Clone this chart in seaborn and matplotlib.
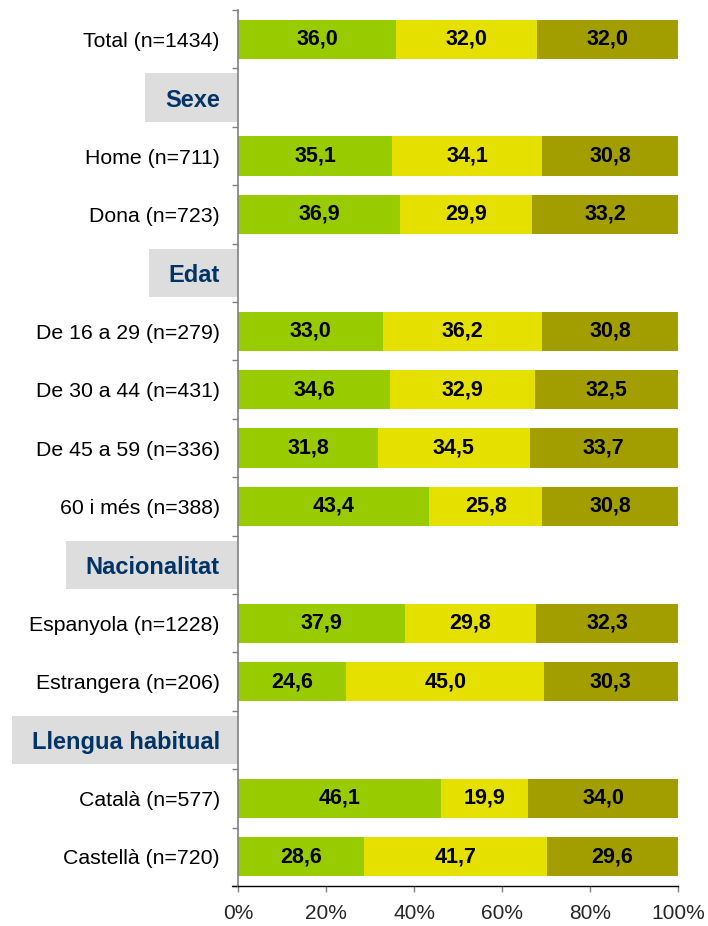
import matplotlib
matplotlib.use("Agg")
import matplotlib.pyplot as plt
import seaborn as sns
import pandas as pd
import numpy as np
from matplotlib.patches import Rectangle

nan = np.nan
rows = ["Total (n=1434)", "Sexe", "Home (n=711)", "Dona (n=723)", "Edat",
        "De 16 a 29 (n=279)", "De 30 a 44 (n=431)", "De 45 a 59 (n=336)",
        "60 i més (n=388)", "Nacionalitat", "Espanyola (n=1228)",
        "Estrangera (n=206)", "Llengua habitual", "Català (n=577)",
        "Castellà (n=720)"]
headers = ["Sexe", "Edat", "Nacionalitat", "Llengua habitual"]
seg1 = [36.0, nan, 35.1, 36.9, nan, 33.0, 34.6, 31.8, 43.4, nan, 37.9, 24.6, nan, 46.1, 28.6]
seg2 = [32.0, nan, 34.1, 29.9, nan, 36.2, 32.9, 34.5, 25.8, nan, 29.8, 45.0, nan, 19.9, 41.7]
seg3 = [32.0, nan, 30.8, 33.2, nan, 30.8, 32.5, 33.7, 30.8, nan, 32.3, 30.3, nan, 34.0, 29.6]
xticks = [0, 20, 40, 60, 80, 100]
xticklabels = ["0%", "20%", "40%", "60%", "80%", "100%"]
colors = ["#99CC00", "#E6E000", "#A39E00"]

sns.set_style("white")
plt.rcParams["font.family"] = ["Liberation Sans", "DejaVu Sans"]

df = pd.DataFrame({"row": rows, "s1": seg1, "s2": seg2, "s3": seg3})
df["c1"] = df["s1"]
df["c2"] = df["s1"] + df["s2"]
df["c3"] = df["s1"] + df["s2"] + df["s3"]

W, H = 708, 926
fig = plt.figure(figsize=(W / 100, H / 100), dpi=100)
ax = fig.add_axes([238 / W, 1 - 886 / H, 440 / W, 876 / H])

bw = 0.67
for col, c in zip(["c3", "c2", "c1"], colors[::-1]):
    sns.barplot(data=df.dropna(subset=[col]), y="row", x=col, order=rows,
                color=c, width=bw, saturation=1, errorbar=None,
                orient="h", linewidth=0, ax=ax)

for i, r in df.iterrows():
    if pd.isna(r["s1"]):
        continue
    left = 0.0
    for s in ["s1", "s2", "s3"]:
        v = r[s]
        ax.text(left + v / 2, i, f"{v:.1f}".replace(".", ","), ha="center",
                va="center", fontsize=15.5, fontweight="bold", color="black")
        left += v

ax.set_xlim(0, 100)
ax.set_ylim(len(rows) - 0.5, -0.5)
ax.set_xlabel("")
ax.set_ylabel("")
ax.set_xticks(xticks)
ax.set_xticklabels(xticklabels, fontsize=15)
ax.set_yticks(range(len(rows)))
ax.set_yticklabels(rows, fontsize=15.3)
ax.set_yticks(np.arange(-0.5, len(rows), 1.0), minor=True)
ax.tick_params(axis="y", which="major", length=0, pad=13)
ax.tick_params(axis="y", which="minor", length=4, width=1, color="#808080", left=True)
ax.tick_params(axis="x", which="major", length=4, width=1, color="#808080",
               bottom=True, pad=9)
ax.grid(False)
for s in ["top", "right"]:
    ax.spines[s].set_visible(False)
ax.spines["left"].set_color("#808080")
ax.spines["left"].set_linewidth(1.2)
ax.spines["bottom"].set_color("black")
ax.spines["bottom"].set_linewidth(1)
ax.plot([-6 / 440, 0], [0, 0], transform=ax.transAxes, color="black",
        lw=1, clip_on=False)

for lab in ax.get_yticklabels():
    if lab.get_text() in headers:
        lab.set_fontweight("bold")
        lab.set_color("#003366")
        lab.set_fontsize(17)
    else:
        lab.set_color("black")

fig.canvas.draw()
renderer = fig.canvas.get_renderer()
axx0 = ax.get_window_extent(renderer).x0
row_px = abs(ax.transData.transform((0, 1))[1] - ax.transData.transform((0, 0))[1])
for lab in ax.get_yticklabels():
    if lab.get_text() in headers:
        bb = lab.get_window_extent(renderer)
        idx = rows.index(lab.get_text())
        yc = ax.transData.transform((0, idx))[1]
        h = 0.83 * row_px
        x0 = bb.x0 - 20
        fig.add_artist(Rectangle((x0 / W, (yc - h / 2) / H), (axx0 - x0) / W, h / H,
                                 transform=fig.transFigure, facecolor="#DDDDDD",
                                 edgecolor="none", zorder=-1))

fig.savefig("out.png", dpi=100)
